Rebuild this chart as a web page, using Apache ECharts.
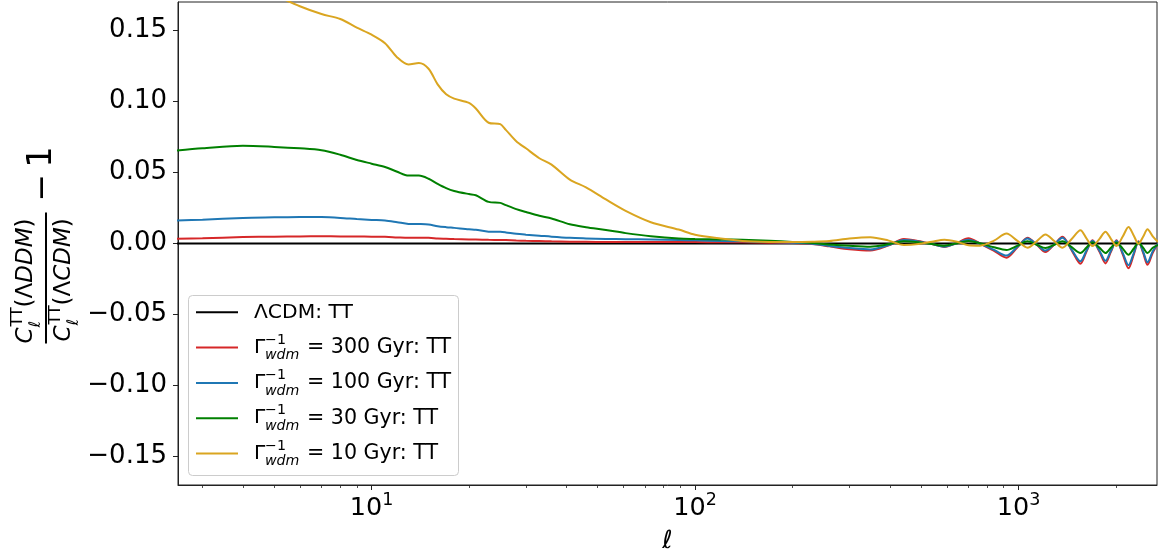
<!DOCTYPE html>
<html><head><meta charset="utf-8">
<script src="https://cdn.jsdelivr.net/npm/echarts@6/dist/echarts.min.js"></script>
<style>html,body{margin:0;padding:0;background:#fff}#c{width:1163px;height:559px}</style>
</head><body><div id="c"></div>
<script>
// ---------- data ----------
const ell = [2.5,3,4,5,6,7,8,9,10,11,12,13,14,15,16,17,18,20,21,23,25,26,28,30,33,36,41,46,53,61,73,89,100,120,140,170,200,230,260,300,348,395,442,490,540,590,640,700,760,840,918,990,1066,1140,1211,1290,1367,1460,1554,1620,1693,1780,1857,1930,2008,2100,2188,2270,2349,2430,2505,2600,2700];

const lcdmEll = [2.5, 2700];
const lcdmVals = [0, 0];

const r300 = [0.0033,0.0037,0.0045,0.0048,0.0050,0.0051,0.0050,0.0049,0.0048,0.0047,0.0043,0.0040,0.0040,0.0040,0.0035,0.0033,0.0031,0.0029,0.0028,0.0026,0.0025,0.0024,0.0021,0.0019,0.0017,0.0015,0.0013,0.0012,0.0011,0.0011,0.0010,0.0010,0.0010,0.0009,0.0008,0.0006,0.0004,-0.0004,-0.0020,-0.0040,-0.0050,-0.0015,0.0032,0.0018,-0.0004,-0.0024,0.0000,0.0037,0.0000,-0.0052,-0.0100,-0.0030,0.0040,-0.0010,-0.0060,-0.0007,0.0047,-0.0048,-0.0142,-0.0060,0.0023,-0.0059,-0.0140,-0.0059,0.0023,-0.0076,-0.0175,-0.0080,0.0015,-0.0068,-0.0150,-0.0065,0.0000];

const b100 = [0.0162,0.0168,0.0180,0.0184,0.0187,0.0186,0.0180,0.0172,0.0166,0.0162,0.0150,0.0138,0.0137,0.0134,0.0122,0.0115,0.0110,0.0100,0.0097,0.0083,0.0082,0.0078,0.0068,0.0062,0.0055,0.0048,0.0040,0.0036,0.0032,0.0030,0.0029,0.0025,0.0022,0.0018,0.0015,0.0010,0.0006,-0.0002,-0.0017,-0.0032,-0.0042,-0.0012,0.0025,0.0015,-0.0004,-0.0022,0.0000,0.0027,0.0000,-0.0045,-0.0085,-0.0025,0.0035,-0.0008,-0.0050,-0.0005,0.0040,-0.0043,-0.0125,-0.0053,0.0020,-0.0051,-0.0122,-0.0051,0.0020,-0.0067,-0.0153,-0.0070,0.0013,-0.0060,-0.0132,-0.0055,0.0000];

const g30 = [0.0655,0.0670,0.0688,0.0680,0.0670,0.0657,0.0625,0.0588,0.0562,0.0539,0.0505,0.0478,0.0478,0.0456,0.0420,0.0390,0.0370,0.0348,0.0340,0.0293,0.0286,0.0270,0.0242,0.0222,0.0195,0.0176,0.0135,0.0115,0.0095,0.0073,0.0051,0.0035,0.0032,0.0029,0.0026,0.0019,0.0011,0.0003,-0.0007,-0.0016,-0.0022,-0.0006,0.0015,0.0008,-0.0004,-0.0015,0.0000,0.0018,0.0002,-0.0027,-0.0046,-0.0017,0.0015,-0.0009,-0.0032,-0.0009,0.0015,-0.0026,-0.0067,-0.0030,0.0008,-0.0030,-0.0067,-0.0030,0.0007,-0.0036,-0.0079,-0.0037,0.0005,-0.0031,-0.0067,-0.0030,-0.0010];

const y10 = [0.200,0.195,0.185,0.175,0.167,0.1615,0.158,0.152,0.147,0.141,0.131,0.126,0.127,0.123,0.112,0.105,0.102,0.099,0.095,0.085,0.084,0.080,0.072,0.067,0.060,0.0555,0.045,0.0395,0.031,0.023,0.015,0.0098,0.0062,0.0035,0.0018,0.0011,0.0010,0.0012,0.0017,0.0035,0.0044,0.0022,-0.0010,-0.0004,0.0012,0.0026,0.0014,-0.0012,-0.0015,0.0020,0.0070,0.0020,-0.0030,0.0017,0.0064,0.0017,-0.0030,0.0032,0.0093,0.0038,-0.0018,0.0033,0.0083,0.0033,-0.0018,0.0049,0.0116,0.0057,-0.0002,0.0049,0.0100,0.0050,0.0010];

const seriesNames = ['ΛCDM: TT', 'Γ⁻¹wdm = 300 Gyr: TT', 'Γ⁻¹wdm = 100 Gyr: TT', 'Γ⁻¹wdm = 30 Gyr: TT', 'Γ⁻¹wdm = 10 Gyr: TT'];
const legendGyr = [null, '300', '100', '30', '10'];
const seriesColors = ['#000000', '#d62728', '#1f77b4', '#008000', '#daa520'];

const xMajorTicks = [10, 100, 1000];
const xMajorExp = ['1', '2', '3'];
const xMinorTicks = [3,4,5,6,7,8,9,20,30,40,50,60,70,80,90,200,300,400,500,600,700,800,900,2000];
const yTicks = [-0.15, -0.10, -0.05, 0.00, 0.05, 0.10, 0.15];

// ---------- chart ----------
const FONT = 'DejaVu Sans';
const pairs = (xs, ys) => xs.map((x, i) => [x, ys[i]]);
const seriesData = [pairs(lcdmEll, lcdmVals), pairs(ell, r300), pairs(ell, b100), pairs(ell, g30), pairs(ell, y10)];

const chart = echarts.init(document.getElementById('c'), null, {renderer: 'canvas'});

const X_MIN = 2.52, X_MAX = 2680;

function t(x, y, text, size, italic, extra) {
  return Object.assign({type: 'text', x: x, y: y, style: {text: text, fontSize: size, fontFamily: FONT,
    fontStyle: italic ? 'italic' : 'normal', fill: '#000', align: 'left', verticalAlign: 'middle'}}, extra || {});
}
const fracRich = {u: {fontSize: 23, fontFamily: FONT, color: '#000'}, i: {fontSize: 23, fontFamily: FONT, fontStyle: 'italic', color: '#000'}};
function richT(x, y, text) {
  return {type: 'text', x: x, y: y, style: {text: text, rich: fracRich, fontSize: 23, fontFamily: FONT, fill: '#000', align: 'left', verticalAlign: 'middle'}};
}
const ylabel = {
  type: 'group', x: 46, y: 278.5, rotation: Math.PI / 2, z: 100,
  children: [
    t(-65, -20, 'C', 23, true),
    t(-48, -28, 'TT', 16, false),
    t(-49, -10, 'ℓ', 16, true),
    richT(-29, -20, '{u|(Λ}{i|DDM}{u|)}'),
    {type: 'line', shape: {x1: -65, y1: 0, x2: 66, y2: 0}, style: {stroke: '#000', lineWidth: 2}},
    t(-63, 18, 'C', 23, true),
    t(-46, 10, 'TT', 16, false),
    t(-47, 28, 'ℓ', 16, true),
    richT(-27, 18, '{u|(Λ}{i|CDM}{u|)}'),
    t(77, -3, '\u2212', 33, false),
    t(111, -4, '1', 33, false)
  ]
};

// legend
const legendChildren = [{type: 'rect', shape: {x: 188.5, y: 295.5, width: 270, height: 180, r: 4},
  style: {fill: 'rgba(255,255,255,0.8)', stroke: '#cccccc', lineWidth: 1}}];
const rowY0 = 312.3, rowStep = 35.3;
seriesNames.forEach((nm, i) => {
  const ry = rowY0 + i * rowStep;
  legendChildren.push({type: 'line', shape: {x1: 196, y1: ry, x2: 238, y2: ry}, style: {stroke: seriesColors[i], lineWidth: 2}});
  if (i === 0) {
    legendChildren.push(t(254, ry, nm, 20.3, false));
  } else {
    legendChildren.push(t(254, ry, 'Γ', 20.3, false));
    legendChildren.push(t(265, ry - 7.5, '\u22121', 14.2, false));
    legendChildren.push(t(265, ry + 8, 'wdm', 14.2, true));
    legendChildren.push(t(307, ry, '= ' + legendGyr[i] + ' Gyr: TT', 20.6, false));
  }
});
const legendGroup = {type: 'group', z: 100, children: legendChildren};

const option = {
  animation: false,
  backgroundColor: '#ffffff',
  grid: {left: 178, right: 6, top: 2, bottom: 73, show: true, borderColor: '#222', borderWidth: 1, backgroundColor: 'transparent'},
  xAxis: [{
    type: 'log', logBase: 10, min: X_MIN, max: X_MAX,
    axisLine: {show: true, onZero: false, lineStyle: {color: '#222', width: 1}},
    axisTick: {show: true, inside: false, length: 5, customValues: xMajorTicks, lineStyle: {color: '#222', width: 1}},
    axisLabel: {
      show: true, margin: 6, customValues: xMajorTicks,
      formatter: function (v) { const k = xMajorTicks.indexOf(Math.round(v)); return '{b|10}{s|' + (k >= 0 ? xMajorExp[k] : '') + '}'; },
      rich: {
        b: {fontSize: 25.5, fontFamily: FONT, color: '#000', lineHeight: 30, verticalAlign: 'bottom'},
        s: {fontSize: 17.5, fontFamily: FONT, color: '#000', lineHeight: 8, verticalAlign: 'top'}
      }
    },
    splitLine: {show: false}, minorTick: {show: false},
    name: 'ℓ', nameLocation: 'middle', nameGap: 44,
    nameTextStyle: {fontFamily: FONT, fontStyle: 'italic', fontSize: 25, color: '#000'}
  }, {
    type: 'log', logBase: 10, min: X_MIN, max: X_MAX, position: 'bottom',
    axisLine: {show: false, onZero: false},
    axisTick: {show: true, inside: false, length: 3, customValues: xMinorTicks, lineStyle: {color: '#222', width: 0.8}},
    axisLabel: {show: false}, splitLine: {show: false}
  }],
  yAxis: {
    type: 'value', min: -0.17, max: 0.17,
    axisLine: {show: true, onZero: false, lineStyle: {color: '#222', width: 1}},
    axisTick: {show: true, inside: false, length: 5, customValues: yTicks, lineStyle: {color: '#222', width: 1}},
    axisLabel: {
      show: true, margin: 11, customValues: yTicks, fontSize: 26, fontFamily: FONT, color: '#000',
      formatter: function (v) { return (v < -1e-9 ? '\u2212' : '') + Math.abs(v).toFixed(2); }
    },
    splitLine: {show: false}
  },
  legend: {show: false},
  series: seriesNames.map((nm, i) => ({
    type: 'line', name: nm, data: seriesData[i], xAxisIndex: 0, yAxisIndex: 0,
    showSymbol: false, symbol: 'none', smooth: i === 0 ? false : 0.3, clip: true,
    lineStyle: {color: seriesColors[i], width: 2}, itemStyle: {color: seriesColors[i]},
    z: 2 + i, silent: true
  })),
  graphic: [ylabel, legendGroup]
};
chart.setOption(option);
</script>
</body></html>
